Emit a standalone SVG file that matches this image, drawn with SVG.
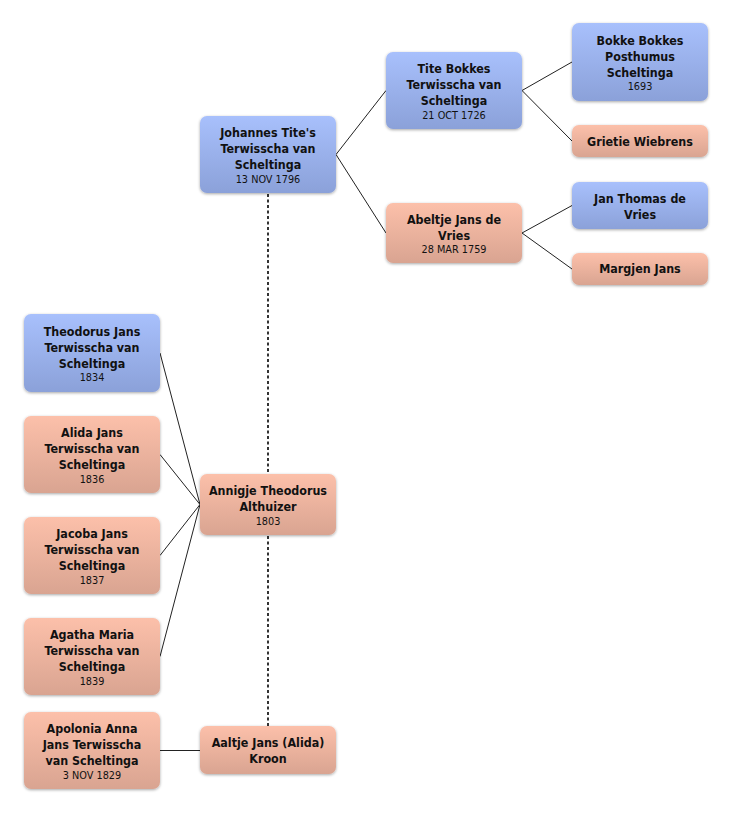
<svg xmlns="http://www.w3.org/2000/svg" width="732" height="813" viewBox="0 0 732 813">
<defs>
<linearGradient id="gb" x1="0" y1="0" x2="0" y2="1">
<stop offset="0" stop-color="#a8c0fc"/>
<stop offset="1" stop-color="#8ba1d9"/>
</linearGradient>
<linearGradient id="gp" x1="0" y1="0" x2="0" y2="1">
<stop offset="0" stop-color="#fcc0aa"/>
<stop offset="1" stop-color="#d9a491"/>
</linearGradient>
<filter id="sh" x="-10%" y="-10%" width="120%" height="130%">
<feGaussianBlur in="SourceAlpha" stdDeviation="1.5"/>
<feOffset dy="1" result="b"/>
<feComponentTransfer><feFuncA type="linear" slope="0.35"/></feComponentTransfer>
<feMerge><feMergeNode/><feMergeNode in="SourceGraphic"/></feMerge>
</filter>
</defs>
<style>
.b{fill:url(#gb);filter:url(#sh)}
.p{fill:url(#gp);filter:url(#sh)}
text{font-family:"DejaVu Sans Condensed","DejaVu Sans",sans-serif;font-stretch:condensed;fill:#111;text-anchor:middle}
.n{font-size:12.4px;font-weight:bold}
.d{font-size:10.8px}
.c{fill:none;stroke:#222;stroke-width:1}
.ds{fill:none;stroke:#333;stroke-width:2;stroke-dasharray:3 2.5}
</style>
<rect width="732" height="813" fill="#fff"/>
<g id="connectors">
<path class="c" d="M336,154.5 L386,90.5 M336,154.5 L386,233"/>
<path class="c" d="M522,90.5 L572,62 M522,90.5 L572,141"/>
<path class="c" d="M522,233 L572,205.5 M522,233 L572,269"/>
<path class="c" d="M160,353 L200,504.5 M160,454.5 L200,504.5 M160,555.5 L200,504.5 M160,656.5 L200,504.5"/>
<path class="c" d="M160,750.5 L200,750.5"/>
<path class="ds" d="M268,194 V474 M268,536 V726"/>
</g>
<g id="johannes">
<rect class="b" x="200" y="116" width="136" height="77" rx="7"/>
<text class="n" x="268" y="137.3">Johannes Tite's</text>
<text class="n" x="268" y="153.2">Terwisscha van</text>
<text class="n" x="268" y="169.2">Scheltinga</text>
<text class="d" x="268" y="182.5">13 NOV 1796</text>
</g>
<g id="tite">
<rect class="b" x="386" y="52" width="136" height="77" rx="7"/>
<text class="n" x="454" y="73.2">Tite Bokkes</text>
<text class="n" x="454" y="89.2">Terwisscha van</text>
<text class="n" x="454" y="105.2">Scheltinga</text>
<text class="d" x="454" y="118.6">21 OCT 1726</text>
</g>
<g id="bokke">
<rect class="b" x="572" y="23" width="136" height="78" rx="7"/>
<text class="n" x="640" y="44.7">Bokke Bokkes</text>
<text class="n" x="640" y="60.7">Posthumus</text>
<text class="n" x="640" y="76.7">Scheltinga</text>
<text class="d" x="640" y="90.2">1693</text>
</g>
<g id="grietie">
<rect class="p" x="572" y="125" width="136" height="32" rx="7"/>
<text class="n" x="640" y="145.5">Grietie Wiebrens</text>
</g>
<g id="abeltje">
<rect class="p" x="386" y="203" width="136" height="60" rx="7"/>
<text class="n" x="454" y="223.7">Abeltje Jans de</text>
<text class="n" x="454" y="239.6">Vries</text>
<text class="d" x="454" y="253.3">28 MAR 1759</text>
</g>
<g id="janthomas">
<rect class="b" x="572" y="182" width="136" height="47" rx="7"/>
<text class="n" x="640" y="202.8">Jan Thomas de</text>
<text class="n" x="640" y="218.8">Vries</text>
</g>
<g id="margjen">
<rect class="p" x="572" y="253" width="136" height="32" rx="7"/>
<text class="n" x="640" y="273.4">Margjen Jans</text>
</g>
<g id="theodorus">
<rect class="b" x="24" y="314" width="136" height="78" rx="7"/>
<text class="n" x="92" y="335.7">Theodorus Jans</text>
<text class="n" x="92" y="351.7">Terwisscha van</text>
<text class="n" x="92" y="367.7">Scheltinga</text>
<text class="d" x="92" y="381.2">1834</text>
</g>
<g id="alida">
<rect class="p" x="24" y="416" width="136" height="77" rx="7"/>
<text class="n" x="92" y="437.2">Alida Jans</text>
<text class="n" x="92" y="453.2">Terwisscha van</text>
<text class="n" x="92" y="469.2">Scheltinga</text>
<text class="d" x="92" y="482.7">1836</text>
</g>
<g id="annigje">
<rect class="p" x="200" y="474" width="136" height="61" rx="7"/>
<text class="n" x="268" y="495.2">Annigje Theodorus</text>
<text class="n" x="268" y="511.2">Althuizer</text>
<text class="d" x="268" y="524.8">1803</text>
</g>
<g id="jacoba">
<rect class="p" x="24" y="517" width="136" height="77" rx="7"/>
<text class="n" x="92" y="538.2">Jacoba Jans</text>
<text class="n" x="92" y="554.2">Terwisscha van</text>
<text class="n" x="92" y="570.2">Scheltinga</text>
<text class="d" x="92" y="583.7">1837</text>
</g>
<g id="agatha">
<rect class="p" x="24" y="618" width="136" height="77" rx="7"/>
<text class="n" x="92" y="639.2">Agatha Maria</text>
<text class="n" x="92" y="655.2">Terwisscha van</text>
<text class="n" x="92" y="671.2">Scheltinga</text>
<text class="d" x="92" y="684.7">1839</text>
</g>
<g id="apolonia">
<rect class="p" x="24" y="712" width="136" height="77" rx="7"/>
<text class="n" x="92" y="733.2">Apolonia Anna</text>
<text class="n" x="92" y="749.2">Jans Terwisscha</text>
<text class="n" x="92" y="765.2">van Scheltinga</text>
<text class="d" x="92" y="778.7">3 NOV 1829</text>
</g>
<g id="aaltje">
<rect class="p" x="200" y="726" width="136" height="48" rx="7"/>
<text class="n" x="268" y="747.3">Aaltje Jans (Alida)</text>
<text class="n" x="268" y="763.3">Kroon</text>
</g>
</svg>
